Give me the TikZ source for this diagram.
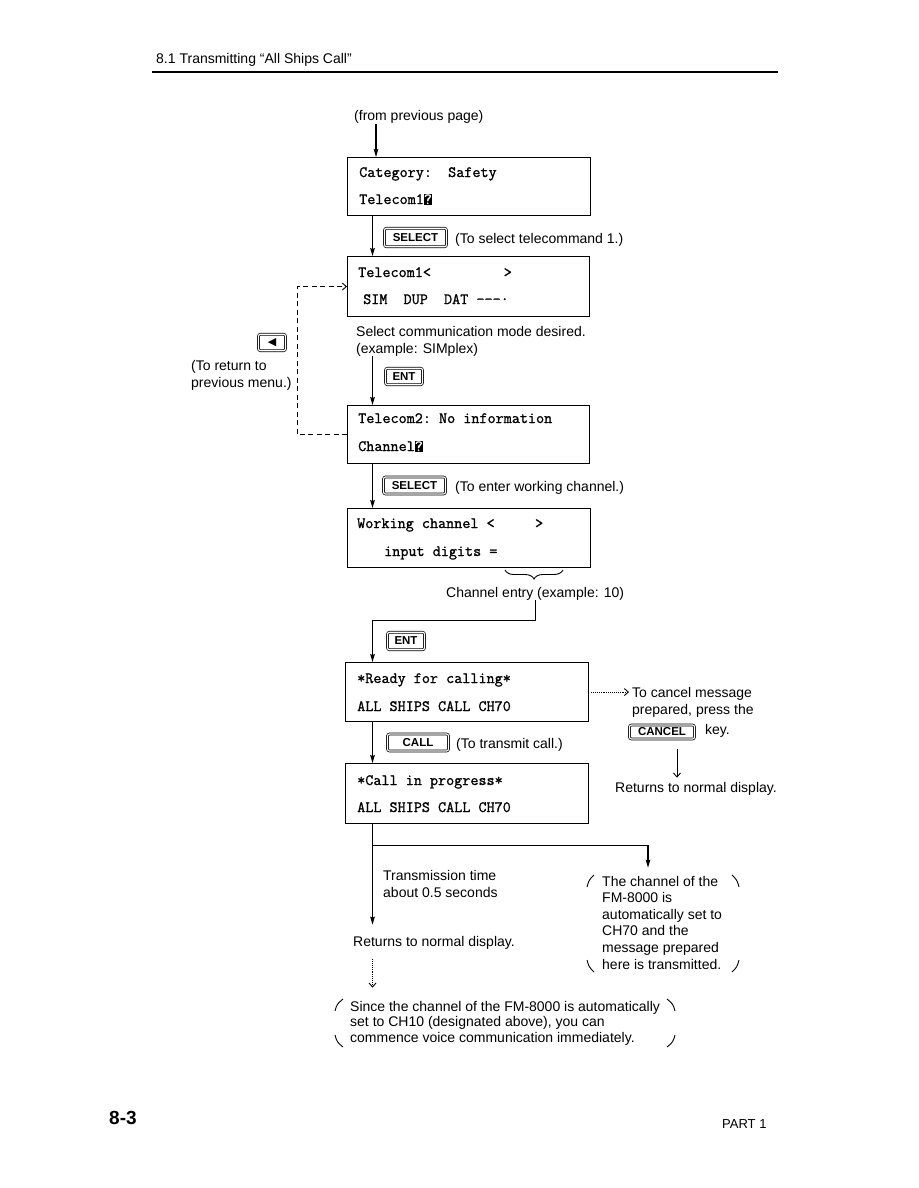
\documentclass[tikz,border=0pt]{standalone}
\usepackage{fontspec}
\setmainfont{Liberation Sans}
\setmonofont{Latin Modern Mono}[FakeBold=1.2]
\newfontfamily\symfont{DejaVu Sans}
\usetikzlibrary{calc}
\usetikzlibrary {arrows.meta}
\usetikzlibrary{decorations.pathreplacing}
\tikzset{>={Stealth[length=8pt,width=4.6pt,inset=1pt]}}
\tikzset{
	screen/.style={draw, line width=1.1pt, anchor=north west, inner sep=0pt},
	lcd/.style={anchor=base west, inner sep=0pt, font=\ttfamily\fontsize{15.7}{18}\selectfont},
	txt/.style={anchor=base west, inner sep=0pt, align=left, font=\fontsize{14}{16.6}\selectfont},
	keycap/.style={draw, double, double distance=1.2pt, line width=0.7pt, rounded corners=2pt, inner sep=0pt, font=\bfseries\fontsize{11.5}{11.5}\selectfont},
	flow/.style={->, line width=1.1pt},
	barb/.style={-{Straight Barb[length=4pt,width=7pt]}, line width=0.9pt},
	paren/.style={line width=0.9pt}
}
\newcommand\curbox{\rlap{\rule[-1.2pt]{0.525em}{11pt}}\textcolor{white}{?}}

\begin{document}
\begin{tikzpicture}[x=1pt, y=-1pt]
\useasboundingbox (0,0) rectangle (918,1188);

\node[txt, font=\fontsize{14}{16}\selectfont] (head) at (156,64) {8.1 Transmitting “All Ships Call”};
\draw[line width=1.5pt] (152,72) -- (778,72);

\coordinate (spine) at (372.5,0);
\coordinate (in1) at (376,0);
\coordinate (cdn) at (677,0);

\node[txt] (fromtxt) at (354,121) {(from previous page)};

\node[screen, minimum width=243pt, minimum height=58pt] (catbox) at (347,157) {};
\node[lcd] (cat1) at ($(catbox.north west)+(12,20)$) {Category:~~Safety};
\node[lcd] (cat2) at ($(catbox.north west)+(12,47)$) {Telecom1\curbox};

\node[keycap, minimum width=62pt, minimum height=18.5pt] (sel1) at (415.5,237.5) {SELECT};
\node[txt] (sel1txt) at (455,243) {(To select telecommand 1.)};

\node[screen, minimum width=242pt, minimum height=60pt] (tc1box) at (347,256) {};
\node[lcd] (tc1a) at ($(tc1box.north west)+(11,21)$) {Telecom1<~~~~~~~~~>};
\node[lcd] (tc1b) at ($(tc1box.north west)+(16,48)$) {SIM~~DUP~~DAT~---·};

\node[txt] (selnote) at (356,353) {Select communication mode desired.\\(example: SIMplex)};
\node[keycap, minimum width=27pt, minimum height=16.5pt] (backkey) at (272,342.5) {\symfont\fontsize{11}{11}\selectfont ◀};
\node[txt] (backtxt) at (191,387) {(To return to\\previous menu.)};
\node[keycap, minimum width=37pt, minimum height=16.5pt] (ent1) at (404,376.5) {ENT};

\node[screen, minimum width=242pt, minimum height=58pt] (tc2box) at (347,405) {};
\node[lcd] (tc2a) at ($(tc2box.north west)+(11,18)$) {Telecom2: No information};
\node[lcd] (tc2b) at ($(tc2box.north west)+(11,46)$) {Channel\curbox};

\node[keycap, minimum width=62pt, minimum height=17pt] (sel2) at (414.5,485.5) {SELECT};
\node[txt] (sel2txt) at (455,491) {(To enter working channel.)};

\node[screen, minimum width=243pt, minimum height=59pt] (wchbox) at (347,508) {};
\node[lcd] (wch1) at ($(wchbox.north west)+(10,20)$) {Working channel <~~~~~>};
\node[lcd] (wch2) at ($(wchbox.north west)+(37,48)$) {input digits =};

\coordinate (brr) at (563,570);
\coordinate (brl) at (505,570);
\draw[decorate, decoration={brace, amplitude=9pt}, line width=0.9pt] (brr) -- (brl);
\node[txt] (chtxt) at (446,597) {Channel entry (example: 10)};

\node[keycap, minimum width=37pt, minimum height=17.5pt] (ent2) at (406,641) {ENT};

\node[screen, minimum width=243pt, minimum height=59pt] (readybox) at (345,662) {};
\node[lcd] (rdy1) at ($(readybox.north west)+(12,21)$) {*Ready for calling*};
\node[lcd] (rdy2) at ($(readybox.north west)+(12,49)$) {ALL SHIPS CALL CH70};

\node[txt] (canceltxt) at (632,714) {To cancel message\\prepared, press the};
\node[keycap, minimum width=65pt, minimum height=14pt] (cancelkey) at (662,732) {CANCEL};
\node[txt] (keytxt) at (705,734) {key.};
\node[txt] (ret1) at (615,792) {Returns to normal display.};

\node[keycap, minimum width=61pt, minimum height=17pt] (callkey) at (418,742.5) {CALL};
\node[txt] (calltxt) at (456,748) {(To transmit call.)};

\node[screen, minimum width=243pt, minimum height=60pt] (progbox) at (345,763) {};
\node[lcd] (prg1) at ($(progbox.north west)+(12,22)$) {*Call in progress*};
\node[lcd] (prg2) at ($(progbox.north west)+(12,49)$) {ALL SHIPS CALL CH70};

\node[txt] (txtime) at (383,897) {Transmission time\\about 0.5 seconds};
\node[txt] (ret2) at (353,946) {Returns to normal display.};
\node[txt] (chblock) at (602,969) {The channel of the\\FM-8000 is\\automatically set to\\CH70 and the\\message prepared\\here is transmitted.};
\node[txt, font=\fontsize{14}{15.5}\selectfont] (noteblock) at (350,1042) {Since the channel of the FM-8000 is automatically\\set to CH10 (designated above), you can\\commence voice communication immediately.};

\node[txt, font=\bfseries\fontsize{19}{19}\selectfont] (pgno) at (109,1124) {8-3};
\node[txt, font=\fontsize{13}{13}\selectfont] (part) at (722,1128) {PART 1};

\draw[flow] (fromtxt.south -| in1) -- (catbox.north -| in1);
\draw[flow] (catbox.south -| spine) -- (tc1box.north -| spine);
\draw[flow] (selnote.south -| spine) -- (tc2box.north -| spine);
\draw[flow] (tc2box.south -| spine) -- (wchbox.north -| spine);
\draw[flow] (chtxt.south) -- ++(0,20) -| (readybox.north -| spine);
\draw[flow] (readybox.south -| spine) -- (progbox.north -| spine);
\draw[flow, shorten >=11pt] (progbox.south -| spine) -- (ret2.north -| spine);
\coordinate (split) at ($(progbox.south -| spine)+(0,21)$);
\draw[flow] (split) -| ($(chblock.north west)+(46,-8)$);

\draw[barb, dash pattern=on 5pt off 3.5pt] (tc2box.west) -- ++(-50,0) |- (tc1box.west);
\draw[barb, densely dotted, shorten <=2pt, shorten >=3pt] (readybox.east) -- (readybox.east -| canceltxt.west);
\draw[barb] ($(cancelkey.south -| cdn)+(0,10)$) -- ($(ret1.north -| cdn)+(0,-4)$);
\draw[barb, densely dotted, shorten <=10pt, shorten >=13pt] (ret2.south -| spine) -- (noteblock.north -| spine);

\draw[paren] (594,875) .. controls (589,880) .. (587,887);
\draw[paren] (587,960) .. controls (589,967) .. (594,972);
\draw[paren] (732,875) .. controls (737,880) .. (739,887);
\draw[paren] (739,960) .. controls (737,967) .. (732,972);
\draw[paren] (343,999) .. controls (337,1004) .. (335,1011);
\draw[paren] (335,1035) .. controls (337,1042) .. (343,1047);
\draw[paren] (667,999) .. controls (673,1004) .. (675,1011);
\draw[paren] (675,1035) .. controls (673,1042) .. (667,1047);
\end{tikzpicture}
\end{document}
